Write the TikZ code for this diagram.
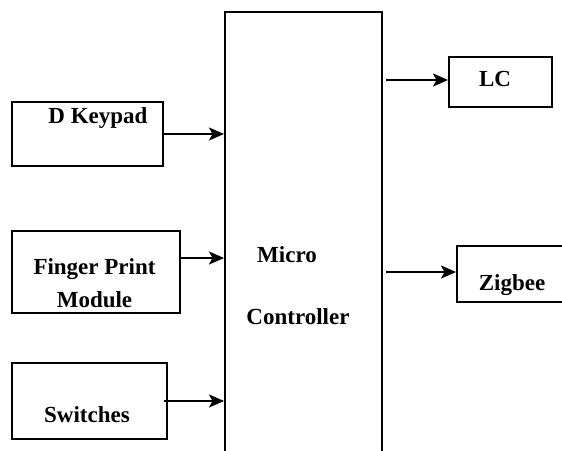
\documentclass[tikz,border=0pt]{standalone}
\usepackage{fontspec}
\setmainfont{Liberation Serif}
\usetikzlibrary{arrows.meta,positioning}

\begin{document}
\begin{tikzpicture}[x=1pt,y=-1pt,>={Stealth[length=15pt,width=13pt,inset=3.5pt]},
    blk/.style={draw,line width=2pt,rectangle,inner sep=0pt},
    txt/.style={font=\fontsize{23}{33}\selectfont\bfseries,align=center},
    every label/.style={txt},
    link/.style={->,line width=2pt}]

            \clip (0,0) rectangle (562,450);

            \node[blk,minimum width=157,minimum height=458] (mc) at (303.5,241) {};
            \node[txt] (micro) at (287,255) {Micro};
            \node[txt] (ctrl) at (298,317) {Controller};

            \node[blk,minimum width=151,minimum height=64] (keypad) at (87.5,134)
                [label={[xshift=10.5pt,yshift=16pt]center:D Keypad}] {};

            \node[blk,minimum width=168,minimum height=82] (finger) at (96,272)
                [label={[xshift=-1.5pt,yshift=-11pt]center:Finger Print\\Module}] {};

            \node[blk,minimum width=155,minimum height=76] (sw) at (89.5,401)
                [label={[xshift=-2.5pt,yshift=-14pt]center:Switches}] {};

            \node[blk,minimum width=103,minimum height=50] (lc) at (500.5,82)
                [label={[xshift=-5.5pt,yshift=3pt]center:LC}] {};

            \node[blk,minimum width=123,minimum height=56] (zig) at (518.5,274)
                [label={[xshift=-6.5pt,yshift=-11pt]center:Zigbee}] {};

            \foreach \from/\dy in {keypad/0, finger/14}
	   {
                \draw[link] ([yshift=\dy pt]\from.east) -- ([yshift=\dy pt]\from.east -| mc.west);
              }
            \draw[link] ([xshift=-4pt]sw.east) -- (sw.east -| mc.west);

            \draw[link] ([xshift=3pt,yshift=2pt]mc.east |- lc.west) -- ([yshift=2pt]lc.west);
            \draw[link] ([xshift=3pt,yshift=2pt]mc.east |- zig.west) -- ([yshift=2pt]zig.west);

        \end{tikzpicture}
\end{document}
